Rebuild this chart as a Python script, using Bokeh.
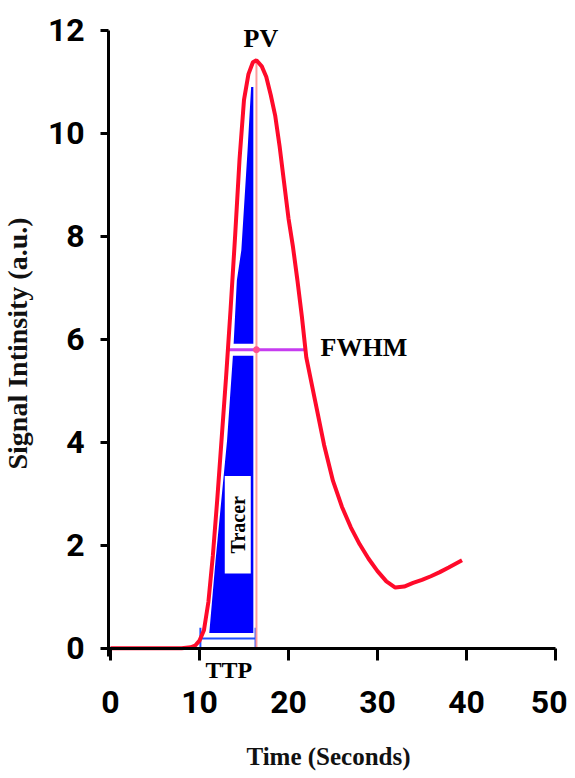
import math
from bokeh.plotting import figure
from bokeh.models import Label, FixedTicker, Range1d
from bokeh.embed import file_html
from bokeh.resources import INLINE

# ---- data ----
time_s = [0, 5, 8, 9, 9.5, 10, 10.5, 11, 11.5, 12, 12.5, 13, 13.5, 14, 14.5, 15,
          15.5, 16, 16.4, 17, 17.5, 18, 18.5, 19, 19.5, 20, 20.5, 21, 21.5, 22,
          23, 24, 25, 26, 27, 28, 29, 30, 31, 32, 33, 34, 35, 36, 37, 38, 39.5]
signal = [0, 0, 0, 0.02, 0.05, 0.15, 0.35, 0.9, 1.8, 2.9, 4.1, 5.3, 6.6, 8.0, 9.5, 10.65,
          11.15, 11.38, 11.42, 11.3, 11.1, 10.75, 10.35, 9.75, 9.05, 8.35, 7.8, 7.15, 6.45, 5.65,
          4.8, 3.95, 3.25, 2.75, 2.35, 2.02, 1.74, 1.5, 1.3, 1.18, 1.2, 1.27, 1.33, 1.4, 1.48, 1.57, 1.71]

tracer_t = [11.1, 11.8, 13.1, 13.8, 14.2, 14.7, 15.4, 15.8, 16.05, 16.05]
tracer_y = [0.3, 1.7, 4.04, 5.8, 7.15, 7.73, 9.67, 10.9, 10.9, 0.3]

peak_t = 16.4
peak_v = 11.42
fwhm_t = [13.2, 21.9]
fwhm_v = 5.8
ttp_t = [10.1, 16.3]
ttp_v = 0.19

x_ticks = [0, 10, 20, 30, 40, 50]
y_ticks = [0, 2, 4, 6, 8, 10, 12]

serif = "Liberation Serif"
tick_font = "Roboto"

p = figure(width=567, height=774, x_range=Range1d(-12.36, 51.35), y_range=Range1d(-2.45, 12.58),
           output_backend="svg", toolbar_location=None,
           min_border_left=0, min_border_right=0, min_border_top=0, min_border_bottom=0)
p.outline_line_color = None
p.xgrid.visible = False
p.ygrid.visible = False
p.background_fill_color = "white"

# tracer area
p.patch(tracer_t, tracer_y, fill_color="#0000ff", line_color=None)
# white band around FWHM line in the blue
p.line([tracer_t[0], peak_t], [fwhm_v, fwhm_v], line_color="white", line_width=12)
# TTP bar
p.line([ttp_t[0], ttp_t[1]], [ttp_v, ttp_v], line_color="white", line_width=6)
p.line([ttp_t[0], ttp_t[1]], [ttp_v, ttp_v], line_color="#1f4fff", line_width=2)
p.segment(x0=ttp_t, y0=[0, 0], x1=ttp_t, y1=[0.4, 0.4], line_color="#1f4fff", line_width=2)
# peak vertical
p.line([peak_t, peak_t], [0, peak_v], line_color="#ff9c9c", line_width=2)
# FWHM line
p.line(fwhm_t, [fwhm_v, fwhm_v], line_color="#c63cf0", line_width=3)
p.scatter([peak_t], [fwhm_v], size=6, color="#ff4f8f")
# main curve
p.line(time_s, signal, line_color="#ff0a2a", line_width=4)

# axes
for ax in (p.xaxis[0], p.yaxis[0]):
    ax.axis_line_width = 3
    ax.axis_line_color = "black"
    ax.major_tick_line_width = 3
    ax.major_tick_line_color = "black"
    ax.minor_tick_line_color = None
    ax.major_tick_in = 0
    ax.major_label_text_font = tick_font
    ax.major_label_text_font_style = "bold"
    ax.major_label_text_font_size = "32px"
    ax.major_label_text_color = "black"
    ax.axis_label_text_font = serif
    ax.axis_label_text_font_style = "bold"
    ax.axis_label_text_color = "#111111"

p.xaxis.fixed_location = 0
p.yaxis.fixed_location = -0.2
p.xaxis.bounds = (-1.0, 50)
p.yaxis.bounds = (-0.15, 12)
p.xaxis.ticker = FixedTicker(ticks=x_ticks)
p.yaxis.ticker = FixedTicker(ticks=y_ticks)
p.xaxis.major_tick_out = 12
p.yaxis.major_tick_out = 8
p.xaxis.major_label_standoff = 31
p.yaxis.major_label_standoff = 16
p.xaxis.axis_label = "Time (Seconds)"
p.yaxis.axis_label = "Signal Intinsity (a.u.)"
p.xaxis.axis_label_text_font_size = "25px"
p.yaxis.axis_label_text_font_size = "28px"
p.xaxis.axis_label_standoff = 26
p.yaxis.axis_label_standoff = 12

# annotations
p.add_layout(Label(x=16.9, y=11.85, text="PV", text_align="center", text_baseline="middle",
                   text_font=serif, text_font_style="bold", text_font_size="26px", text_color="black"))
p.add_layout(Label(x=23.6, y=5.85, text="FWHM", text_align="left", text_baseline="middle",
                   text_font=serif, text_font_style="bold", text_font_size="26px", text_color="black"))
p.add_layout(Label(x=13.3, y=-0.43, text="TTP", text_align="center", text_baseline="middle",
                   text_font=serif, text_font_style="bold", text_font_size="24px", text_color="black"))
p.add_layout(Label(x=14.3, y=2.4, text="Tracer", text_align="center", text_baseline="middle",
                   angle=math.pi / 2, text_font=serif, text_font_style="bold", text_font_size="20px",
                   text_color="black", background_fill_color="white", padding=(20, 2)))

open("out.html", "w").write(file_html(p, INLINE))
